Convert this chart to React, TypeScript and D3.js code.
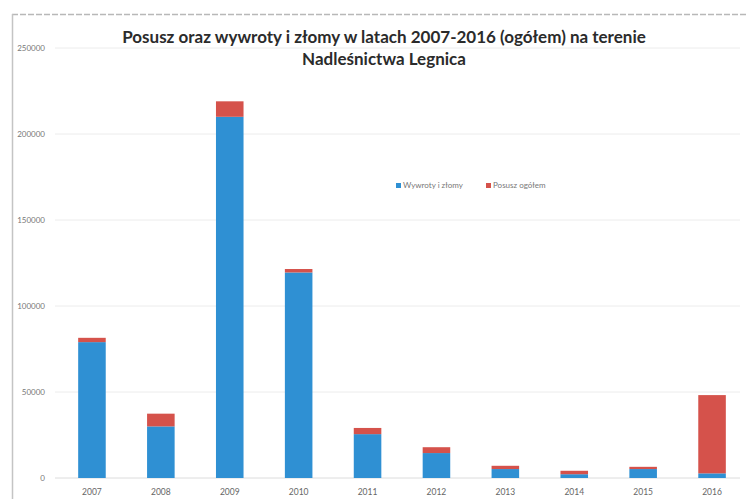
import React from "react";
import * as d3 from "d3";

const years = ["2007", "2008", "2009", "2010", "2011", "2012", "2013", "2014", "2015", "2016"];
const wywroty = [79000, 30000, 210000, 119500, 25500, 14500, 5200, 2200, 5200, 2700];
const posusz = [2500, 7400, 9000, 2000, 3600, 3400, 1900, 2000, 1300, 45500];
const yTicks = [0, 50000, 100000, 150000, 200000, 250000];
const seriesNames = ["Wywroty i złomy", "Posusz ogółem"];
const colors = ["#2f90d3", "#d5524b"];
const titleLines = [
  "Posusz oraz wywroty i złomy w latach 2007-2016 (ogółem) na terenie",
  "Nadleśnictwa Legnica",
];

export default function App() {
  const W = 747;
  const H = 499;
  const x = d3.scaleBand<string>().domain(years).range([57.5, 746.5]).paddingInner(0.6).paddingOuter(0.3);
  const y = d3.scaleLinear().domain([0, 250000]).range([478, 48]);
  const rows = years.map((yr, i) => ({ year: yr, a: wywroty[i], b: posusz[i] }));
  const stack = d3.stack<any>().keys(["a", "b"]);
  const series = stack(rows);
  const font = "Lato, 'Liberation Sans', Arial, sans-serif";

  return (
    <svg width={W} height={H} style={{ position: "absolute", left: 0, top: 0, background: "#fff" }}>
      <rect x={0} y={0} width={W} height={H} fill="#fff" />
      {/* chart frame */}
      <line x1={12} x2={W} y1={14.5} y2={14.5} stroke="#b8b8b8" strokeWidth={1.5} strokeDasharray="6 2" />
      <line x1={12.5} x2={12.5} y1={14} y2={H} stroke="#c4c4c4" strokeWidth={1.5} />
      {/* title */}
      {titleLines.map((t, i) => (
        <text key={i} x={384} y={43 + i * 22} textAnchor="middle" fontFamily={font} fontWeight="bold" fontSize={17} fill="#2b2b2b">
          {t}
        </text>
      ))}
      {/* gridlines */}
      {yTicks.map((t) => (
        <g key={t}>
          <line x1={55} x2={740} y1={y(t)} y2={y(t)} stroke={t === 0 ? "#dcdcdc" : "#ececec"} strokeWidth={1} />
          <text x={45} y={y(t) + 3} textAnchor="end" fontFamily={font} fontSize={8} fill="#777">
            {t}
          </text>
        </g>
      ))}
      {/* bars */}
      {series.map((s, si) => (
        <g key={si} fill={colors[si]}>
          {s.map((d, i) => (
            <rect key={i} x={x(years[i])} y={y(d[1])} width={x.bandwidth()} height={y(d[0]) - y(d[1])} />
          ))}
        </g>
      ))}
      {/* x labels */}
      {years.map((yr) => (
        <text key={yr} x={(x(yr) as number) + x.bandwidth() / 2} y={495} textAnchor="middle" fontFamily={font} fontSize={8.5} fill="#666">
          {yr}
        </text>
      ))}
      {/* legend */}
      {seriesNames.map((n, i) => {
        const lx = [396, 486][i];
        return (
          <g key={n}>
            <rect x={lx} y={183} width={5} height={5} fill={colors[i]} />
            <text x={lx + 7} y={188} fontFamily={font} fontSize={8} fill="#777">
              {n}
            </text>
          </g>
        );
      })}
    </svg>
  );
}
